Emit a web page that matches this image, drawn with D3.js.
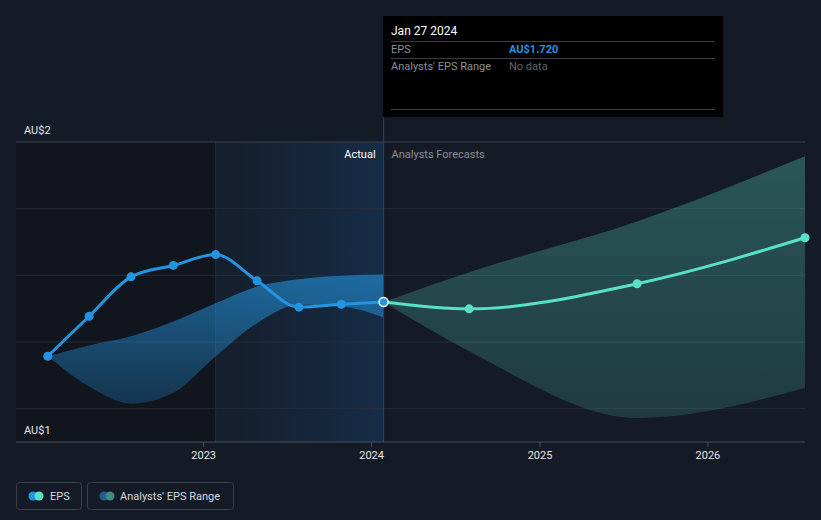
<!DOCTYPE html>
<html><head><meta charset="utf-8">
<script src="https://cdn.jsdelivr.net/npm/d3@7"></script>
<style>
html,body{margin:0;padding:0;background:#151b26;}
svg{display:block;font-family:Roboto,"Noto Sans",sans-serif;}
</style></head><body>
<svg id="chart" width="821" height="520"></svg>
<script>
// ---- data ----
const pastDates = ["2022-01-27","2022-04-27","2022-07-27","2022-10-27","2023-01-27","2023-04-27","2023-07-27","2023-10-27","2024-01-27"];
const pastEPS   = [1.625,1.695,1.764,1.784,1.803,1.757,1.711,1.716,1.720];
const pastRangeHigh = [1.625,1.644,1.660,1.686,1.718,1.747,1.760,1.766,1.768];
const pastRangeLow  = [1.625,1.572,1.542,1.561,1.625,1.683,1.715,1.712,1.693];
const fcDates = ["2024-01-27","2024-07-31","2025-07-31","2026-07-31"];
const fcEPS   = [1.720,1.708,1.752,1.8325];
const fcHigh  = [1.720,1.772,1.861,1.975];
const fcLow   = [1.720,1.634,1.517,1.5695];
const yearTicks = ["2023","2024","2025","2026"];
const yLabels = ["AU$2","AU$1"];
const todayDate = "2024-01-27";
const actualStart = "2023-01-27";

(function(){
const parse = d3.utcParse("%Y-%m-%d");
const svg = d3.select("#chart");
const pL=16,pR=805,pT=142,pB=442;

const x = d3.scaleUtc().domain([parse("2021-11-19"), parse("2026-07-31")]).range([pL,pR]);
const y = d3.scaleLinear().domain([1.475,2.0]).range([pB,pT]);

const defs = svg.append("defs");
const gAct = defs.append("linearGradient").attr("id","actGrad").attr("x1",0).attr("x2",1).attr("y1",0).attr("y2",0);
gAct.append("stop").attr("offset","0%").attr("stop-color","#16314f").attr("stop-opacity",0.15);
gAct.append("stop").attr("offset","100%").attr("stop-color","#16395e").attr("stop-opacity",0.6);
const gPast = defs.append("linearGradient").attr("id","pastBand").attr("x1",0).attr("x2",0).attr("y1",0).attr("y2",1);
gPast.append("stop").attr("offset","0%").attr("stop-color","#2394df").attr("stop-opacity",0.6);
gPast.append("stop").attr("offset","100%").attr("stop-color","#2394df").attr("stop-opacity",0.25);
const gFc = defs.append("linearGradient").attr("id","fcBand").attr("x1",0).attr("x2",0).attr("y1",0).attr("y2",1);
gFc.append("stop").attr("offset","0%").attr("stop-color","#58e1c8").attr("stop-opacity",0.3);
gFc.append("stop").attr("offset","100%").attr("stop-color","#58e1c8").attr("stop-opacity",0.16);

const xToday = x(parse(todayDate)), xAct = x(parse(actualStart));
svg.append("rect").attr("x",pL).attr("y",pT).attr("width",xAct-pL).attr("height",pB-pT).attr("fill","#11151d");
svg.append("rect").attr("x",xAct).attr("y",pT).attr("width",xToday-xAct).attr("height",pB-pT).attr("fill","url(#actGrad)");
svg.append("line").attr("x1",xAct).attr("x2",xAct).attr("y1",pT).attr("y2",pB).attr("stroke","#1a2f47").attr("stroke-width",1);

// gridlines
const step = (pB-pT)/4.5;
for(let i=0;i<5;i++){
  svg.append("line").attr("x1",pL).attr("x2",pR).attr("y1",pT+i*step).attr("y2",pT+i*step)
    .attr("stroke", i===0 ? "#3a414c" : "#262d38").attr("stroke-width",1);
}

// bands
const pastBand = pastDates.map((d,i)=>({d:parse(d),lo:pastRangeLow[i],hi:pastRangeHigh[i]}));
const fcBand = fcDates.map((d,i)=>({d:parse(d),lo:fcLow[i],hi:fcHigh[i]}));
const area = d3.area().curve(d3.curveMonotoneX).x(p=>x(p.d)).y0(p=>y(p.lo)).y1(p=>y(p.hi));
svg.append("path").attr("d",area(pastBand)).attr("fill","url(#pastBand)");
svg.append("path").attr("d",area(fcBand)).attr("fill","url(#fcBand)");

// today line
svg.append("line").attr("x1",xToday).attr("x2",xToday).attr("y1",117).attr("y2",pB).attr("stroke","#284563").attr("stroke-width",1);

// axis
svg.append("line").attr("x1",pL).attr("x2",pR).attr("y1",pB).attr("y2",pB).attr("stroke","#4a515b").attr("stroke-width",1);
yearTicks.forEach(t=>{
  const xx = x(parse(t+"-01-01"));
  svg.append("line").attr("x1",xx).attr("x2",xx).attr("y1",pB).attr("y2",pB+5).attr("stroke","#4a515b");
  svg.append("text").attr("x",xx).attr("y",459).attr("text-anchor","middle").attr("fill","#e6e6e6").attr("font-size",11).text(t);
});

// y labels
svg.append("text").attr("x",24).attr("y",134).attr("fill","#e6e6e6").attr("font-size",11).text(yLabels[0]);
svg.append("text").attr("x",24).attr("y",434).attr("fill","#e6e6e6").attr("font-size",11).text(yLabels[1]);

svg.append("text").attr("x",xToday-8).attr("y",158).attr("text-anchor","end").attr("fill","#ffffff").attr("font-size",11).text("Actual");
svg.append("text").attr("x",xToday+8).attr("y",158).attr("fill","#8a8f96").attr("font-size",11).text("Analysts Forecasts");

// lines
const line = d3.line().curve(d3.curveMonotoneX).x(p=>x(p.d)).y(p=>y(p.v));
const past = pastDates.map((d,i)=>({d:parse(d),v:pastEPS[i]}));
const fc = fcDates.map((d,i)=>({d:parse(d),v:fcEPS[i]}));
svg.append("path").attr("d",line(fc)).attr("fill","none").attr("stroke","#58e1c8").attr("stroke-width",3);
svg.append("path").attr("d",line(past)).attr("fill","none").attr("stroke","#2394df").attr("stroke-width",3);
svg.selectAll(".fp").data(fc.slice(1)).join("circle").attr("cx",p=>x(p.d)).attr("cy",p=>y(p.v)).attr("r",4.5).attr("fill","#58e1c8");
svg.selectAll(".pp").data(past.slice(0,-1)).join("circle").attr("cx",p=>x(p.d)).attr("cy",p=>y(p.v)).attr("r",4.5).attr("fill","#2394df");
const last = past[past.length-1];
svg.append("circle").attr("cx",x(last.d)).attr("cy",y(last.v)).attr("r",4.5).attr("fill","#2394df").attr("stroke","#ffffff").attr("stroke-width",1.5);

// tooltip
const tt = svg.append("g");
tt.append("rect").attr("x",383).attr("y",16).attr("width",340).attr("height",101).attr("fill","#000000");
tt.append("text").attr("x",391).attr("y",35).attr("fill","#ffffff").attr("font-size",12).text("Jan 27 2024");
[41,58,109].forEach(yy=>tt.append("line").attr("x1",391).attr("x2",715).attr("y1",yy+0.5).attr("y2",yy+0.5).attr("stroke","#3a3d42"));
tt.append("text").attr("x",391).attr("y",53).attr("fill","#8a8f96").attr("font-size",11).text("EPS");
tt.append("text").attr("x",509).attr("y",53).attr("fill","#2394df").attr("font-size",11).attr("font-weight","bold").text("AU$" + pastEPS[pastEPS.length-1].toFixed(3));
tt.append("text").attr("x",391).attr("y",70).attr("fill","#8a8f96").attr("font-size",11).text("Analysts' EPS Range");
tt.append("text").attr("x",509).attr("y",70).attr("fill","#5f646b").attr("font-size",11).text("No data");

// legend
const lg = svg.append("g");
lg.append("rect").attr("x",16.5).attr("y",482.5).attr("width",65).attr("height",27).attr("rx",3).attr("fill","none").attr("stroke","#3a404a");
lg.append("circle").attr("cx",33).attr("cy",496).attr("r",4.5).attr("fill","#2394df");
lg.append("circle").attr("cx",39).attr("cy",496).attr("r",4.5).attr("fill","#58e1c8");
lg.append("text").attr("x",50).attr("y",500).attr("fill","#d6d8db").attr("font-size",11).text("EPS");
lg.append("rect").attr("x",87.5).attr("y",482.5).attr("width",146).attr("height",27).attr("rx",3).attr("fill","none").attr("stroke","#3a404a");
lg.append("circle").attr("cx",104).attr("cy",496).attr("r",4.5).attr("fill","#1f5f8f");
lg.append("circle").attr("cx",110).attr("cy",496).attr("r",4.5).attr("fill","#3d8a80");
lg.append("text").attr("x",120).attr("y",500).attr("fill","#d6d8db").attr("font-size",11).text("Analysts' EPS Range");
})();
</script>
</body></html>
